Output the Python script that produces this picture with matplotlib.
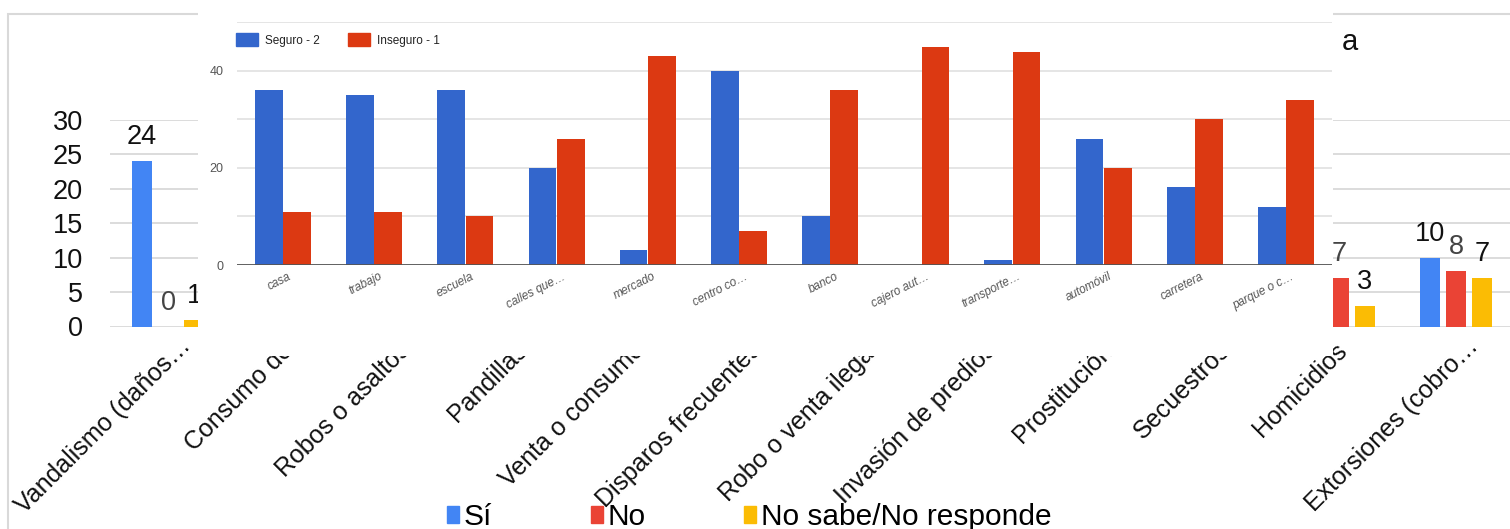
import matplotlib
matplotlib.use("Agg")
import matplotlib.pyplot as plt
import matplotlib.patches as mpatches
from matplotlib.transforms import ScaledTranslation
import numpy as np

# ── Data ───────────────────────────────────────────────────────────────────────
# background chart (mostly covered by the pasted chart)
problemas = [
    "Vandalismo (daños…", "Consumo de", "Robos o asaltos", "Pandillas",
    "Venta o consumo", "Disparos frecuentes", "Robo o venta ilegal",
    "Invasión de predios", "Prostitución", "Secuestros", "Homicidios",
    "Extorsiones (cobro…",
]
si = [24, 18, 20, 14, 12, 16, 8, 5, 6, 3, 15, 10]
no = [0, 5, 4, 8, 9, 7, 11, 15, 14, 17, 7, 8]
no_sabe = [1, 2, 1, 3, 4, 2, 6, 5, 5, 5, 3, 7]
series_bg = ["Sí", "No", "No sabe/No responde"]

# pasted chart on top
lugares = [
    "casa", "trabajo", "escuela", "calles que…", "mercado", "centro co…",
    "banco", "cajero aut…", "transporte…", "automóvil", "carretera",
    "parque o c…",
]
seguro = [36, 35, 36, 20, 3, 40, 10, 0, 1, 26, 16, 12]
inseguro = [11, 11, 10, 26, 43, 7, 36, 45, 44, 20, 30, 34]
series_ov = ["Seguro - 2", "Inseguro - 1"]

W, H = 1510, 529
plt.rcParams["font.family"] = ["Liberation Sans", "DejaVu Sans"]


def px_box(x0, y0, x1, y1):
    """Pixel box (top-left origin) -> figure fraction rect."""
    return [x0 / W, 1 - y1 / H, (x1 - x0) / W, (y1 - y0) / H]


def nudge(text, dx, dy):
    """Shift a text artist by (dx, dy) pixels."""
    text.set_transform(text.get_transform()
                       + ScaledTranslation(dx / 100, dy / 100, fig.dpi_scale_trans))


fig = plt.figure(figsize=(W / 100, H / 100), dpi=100)
fig.patch.set_facecolor("white")

# outer frame of the background chart
fig.add_artist(mpatches.Rectangle(
    (8.4 / W, -0.1), 1.0, 1 - 13.5 / H + 0.1, transform=fig.transFigure,
    fill=False, edgecolor="#d9d9d9", linewidth=1.5, zorder=-1))

# ── Background chart ───────────────────────────────────────────────────────────
ax = fig.add_axes(px_box(109.5, 120, 1514.5, 326.5))
ax.set_facecolor("none")
x = np.arange(len(problemas))
bw, off = 0.171, 0.222
bg_colors = ["#4285f4", "#ea4335", "#fbbc04"]
label_colors = ["#111111", "#444444", "#111111"]
for k, (vals, col, lc) in enumerate(zip([si, no, no_sabe], bg_colors, label_colors)):
    bars = ax.bar(x + (k - 1) * off, vals, bw, color=col, zorder=2)
    for b, v in zip(bars, vals):
        ax.annotate(str(v), (b.get_x() + b.get_width() / 2, v),
                    xytext=(0, 17), textcoords="offset pixels",
                    ha="center", va="baseline", fontsize=19.5, color=lc)

ax.set_xlim(-0.5, 11.5)
ax.set_ylim(0, 30)
ax.set_yticks(range(0, 31, 5))
ax.yaxis.grid(True, color="#d9d9d9", linewidth=1.3)
ax.set_axisbelow(True)
ax.set_xticks(x)
ax.set_xticklabels(problemas, rotation=45, ha="right", rotation_mode="anchor")
ax.tick_params(axis="y", length=0, labelsize=19.5, pad=19, labelcolor="#111111")
ax.tick_params(axis="x", length=0, labelsize=18, pad=4, labelcolor="#111111")
for s in ax.spines.values():
    s.set_visible(False)
for lbl in ax.get_xticklabels():
    if lbl.get_text().endswith("…"):
        # the original uses a narrower ellipsis
        nudge(lbl, 10, -2)
    else:
        nudge(lbl, -4, -6)

bg_handles = [mpatches.Patch(color=c) for c in bg_colors]
ax.legend(bg_handles, series_bg, loc="center left",
          bbox_to_anchor=(447 / W, 1 - 517 / H), bbox_transform=fig.transFigure,
          ncol=3, frameon=False, fontsize=21.5, handlelength=0.41,
          handleheight=0.5, handletextpad=0.15, columnspacing=3.3,
          borderpad=0, borderaxespad=0)

fig.text(1350 / W, 1 - 42 / H, "a", fontsize=21, ha="center", va="center",
         color="#111111")

# white card of the pasted chart
fig.add_artist(mpatches.Rectangle(
    (198 / W, 1 - 356 / H), (1333 - 198) / W, 356 / H + 0.01,
    transform=fig.transFigure, facecolor="white", edgecolor="none", zorder=1))

# ── Pasted chart ───────────────────────────────────────────────────────────────
ov = fig.add_axes(px_box(237.4, 22.4, 1331.6, 265))
ov.set_zorder(2)
ov.set_facecolor("none")
xo = np.arange(len(lugares))
ov.bar(xo - 0.155, seguro, 0.305, color="#3366cc", zorder=2)
ov.bar(xo + 0.155, inseguro, 0.305, color="#dc3912", zorder=2)
ov.axhline(0, color="#555555", linewidth=2, zorder=3)

ov.set_xlim(-0.5, 11.5)
ov.set_ylim(0, 50)
ov.set_yticks(range(0, 51, 10))
ov.set_yticklabels(["0", "", "20", "", "40", ""])
ov.yaxis.grid(True, color="#e3e3e3", linewidth=1.3)
ov.set_axisbelow(True)
ov.set_xticks(xo)
ov.set_xticklabels(lugares, rotation=27, ha="right", rotation_mode="anchor",
                   style="italic")
ov.tick_params(axis="y", length=0, labelsize=9, pad=10, labelcolor="#555555")
ov.tick_params(axis="x", length=0, labelsize=8.5, pad=4, labelcolor="#555555")
for s in ov.spines.values():
    s.set_visible(False)
for lbl in ov.get_xticklabels():
    nudge(lbl, 5, 0)

ov_handles = [mpatches.Patch(color=c) for c in ["#3366cc", "#dc3912"]]
ov.legend(ov_handles, series_ov, loc="center left",
          bbox_to_anchor=(236 / W, 1 - 40 / H), bbox_transform=fig.transFigure,
          ncol=2, frameon=False, fontsize=8.5, handlelength=1.86,
          handleheight=1.2, handletextpad=0.6, columnspacing=2.4,
          borderpad=0, borderaxespad=0, labelcolor="#222222")

fig.savefig("out.png", dpi=100)
